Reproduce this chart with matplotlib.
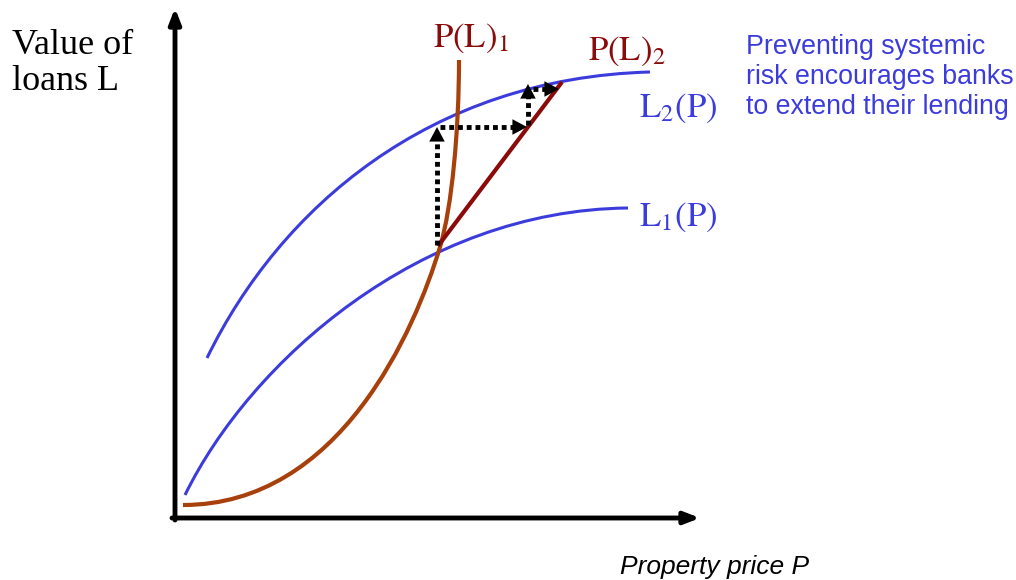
import matplotlib
matplotlib.use("Agg")
import matplotlib.pyplot as plt
from matplotlib.path import Path
from matplotlib.patches import PathPatch

plt.rcParams["mathtext.fontset"] = "stix"

# curves as bezier control points (pixel-like units, y grows downward)
l1_pts = [(185, 495), (250, 362), (420, 210), (628, 208)]
l2_pts = [(207, 358), (280, 208), (430, 78), (650, 72)]
pl1_pts = [(183, 505), (340, 505), (415, 330), (440, 247),
           (452, 207), (459, 130), (459, 60)]

pl2_x = [438, 562]
pl2_y = [246, 82]

# dotted adjustment steps: start and tip of each arrow
step_start_x = [437, 440, 528, 533]
step_start_y = [245, 127, 125, 89]
step_tip_x = [437, 527, 528, 559]
step_tip_y = [127, 127, 84, 89]

blue = "#3c3cdc"
orange = "#a8400c"
darkred = "#8b0a0a"


def curve(ax, pts, color, lw):
    codes = [Path.MOVETO] + [Path.CURVE4] * (len(pts) - 1)
    ax.add_patch(PathPatch(Path(pts, codes), fill=False, edgecolor=color, lw=lw,
                           capstyle="butt"))


fig = plt.figure(figsize=(10.16, 5.8), dpi=100)
ax = fig.add_axes([0, 0, 1, 1])
ax.set_xlim(0, 1016)
ax.set_ylim(580, 0)
ax.axis("off")

# axes with arrows
ax.annotate("", xy=(175, 8), xytext=(175, 520),
            arrowprops=dict(arrowstyle="-|>,head_length=0.9,head_width=0.35", lw=3.5, color="black",
                            shrinkA=0, shrinkB=0))
ax.annotate("", xy=(700, 518), xytext=(172, 518),
            arrowprops=dict(arrowstyle="-|>,head_length=0.9,head_width=0.35", lw=3.5, color="black",
                            shrinkA=0, shrinkB=0))

curve(ax, l1_pts, blue, 2.2)
curve(ax, l2_pts, blue, 2.2)
curve(ax, pl1_pts, orange, 3)
ax.plot(pl2_x, pl2_y, color=darkred, lw=3, solid_capstyle="butt")

for sx, sy, tx, ty in zip(step_start_x, step_start_y, step_tip_x, step_tip_y):
    # dotted shaft stops short of the head, head drawn solid
    dx = tx - sx
    dy = ty - sy
    n = (dx ** 2 + dy ** 2) ** 0.5
    ex = tx - dx / n * 9
    ey = ty - dy / n * 9
    ax.plot([sx, ex], [sy, ey], color="black", lw=3.5, ls=(0, (1, 0.8)), dash_capstyle="butt")
    ax.annotate("", xy=(tx, ty), xytext=(sx, sy),
                arrowprops=dict(arrowstyle="-|>,head_length=0.75,head_width=0.4",
                                lw=0, color="black", mutation_scale=14, shrinkA=0, shrinkB=0))

# labels
ax.text(12, 29, "Value of\nloans L", family="Liberation Serif", fontsize=26,
        va="top", ha="left", linespacing=1.12)
ax.text(433, 47, r"$\mathrm{P(L)}_1$", fontsize=25, color=darkred, va="baseline")
ax.text(588, 60, r"$\mathrm{P(L)}_2$", fontsize=25, color=darkred, va="baseline")
ax.text(639, 117, r"$\mathrm{L}_2\mathrm{(P)}$", fontsize=25, color=blue, va="baseline")
ax.text(639, 226, r"$\mathrm{L}_1\mathrm{(P)}$", fontsize=25, color=blue, va="baseline")
ax.text(746, 34, "Preventing systemic\nrisk encourages banks\nto extend their lending",
        family="Liberation Sans", fontsize=19.3, color=blue, va="top", ha="left", linespacing=1.2)
ax.text(620, 567, "Property price P", family="Liberation Sans", style="italic",
        fontsize=19, va="center", ha="left")

fig.savefig("out.png", dpi=100)
